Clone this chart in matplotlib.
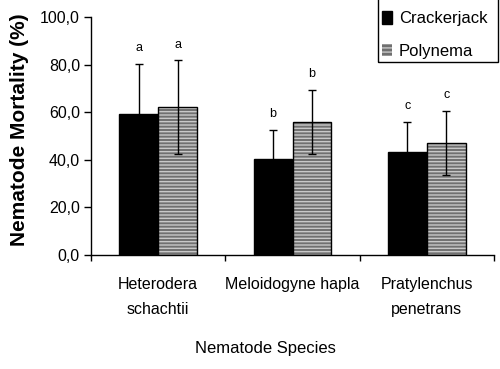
import numpy as np
import matplotlib
matplotlib.use("Agg")
import matplotlib.pyplot as plt
import matplotlib.patches as patches

plt.rcParams['font.family'] = ['Liberation Sans', 'DejaVu Sans']

# data
species = ["Heterodera\nschachtii", "Meloidogyne hapla", "Pratylenchus\npenetrans"]
crackerjack = [59.2, 40.4, 43.3]
crackerjack_err = [21.0, 12.1, 12.6]
polynema = [62.2, 55.9, 47.1]
polynema_err = [19.6, 13.4, 13.6]
crackerjack_letters = ["a", "b", "c"]
polynema_letters = ["a", "b", "c"]
yticks = [0, 20, 40, 60, 80, 100]

fig = plt.figure(figsize=(5.0, 3.69), dpi=100)
ax = fig.add_axes([0.182, 0.309, 0.806, 0.645])

x = np.arange(len(species))
w = 0.29

#Crackerjack bars, solid black
ax.bar(x - w/2, crackerjack, w, color='black', edgecolor='black', linewidth=1, zorder=2)

#Polynema bars: striped fill, then black outline
ax.bar(x + w/2, polynema, w, color='#707070', edgecolor='#c8c8c8', hatch='-----', linewidth=0, zorder=2)
ax.bar(x + w/2, polynema, w, fill=False, edgecolor='black', linewidth=1, zorder=3)

#Error bars
ax.errorbar(x - w/2, crackerjack, yerr=crackerjack_err, fmt='none', ecolor='black', elinewidth=1, capsize=3, capthick=1, zorder=4)
ax.errorbar(x + w/2, polynema, yerr=polynema_err, fmt='none', ecolor='black', elinewidth=1, capsize=3, capthick=1, zorder=4)

#Significance letters
for i in range(len(species)):
    ax.annotate(crackerjack_letters[i], (x[i] - w/2, crackerjack[i] + crackerjack_err[i]), xytext=(0, 7),
                textcoords='offset points', ha='center', va='bottom', fontsize=9)
    ax.annotate(polynema_letters[i], (x[i] + w/2, polynema[i] + polynema_err[i]), xytext=(0, 7),
                textcoords='offset points', ha='center', va='bottom', fontsize=9)

#Axes styling
ax.set_xlim(-0.5, len(species) - 0.5)
ax.set_ylim(0, 100)
ax.set_yticks(yticks)
ax.set_yticklabels([("%.1f" % v).replace('.', ',') for v in yticks], fontsize=11.5)
ax.set_xticks(x)
ax.set_xticklabels(species, fontsize=11.5, linespacing=1.85, va='top')
ax.tick_params(axis='x', which='major', length=0, pad=16)
ax.set_xticks(np.arange(-0.5, len(species), 1.0), minor=True)
ax.tick_params(axis='x', which='minor', length=4, direction='out', width=1)
ax.tick_params(axis='y', length=5, width=1, direction='out', pad=3)
for side in ['top', 'right']:
    ax.spines[side].set_visible(False)
for side in ['left', 'bottom']:
    ax.spines[side].set_linewidth(1)

ax.set_ylabel("Nematode Mortality (%)", fontsize=15, fontweight='bold')
ax.yaxis.set_label_coords(-0.155, 0.525)
fig.text(265/500, 1 - 348/369, "Nematode Species", ha='center', va='center', fontsize=12)

#Legend: entries without frame, box drawn separately so its top runs off the figure
handles = [patches.Patch(facecolor='black', edgecolor='black'),
           patches.Patch(facecolor='#707070', edgecolor='#c8c8c8', hatch='----', linewidth=0)]
leg = fig.legend(handles, ["Crackerjack", "Polynema"], loc='upper left', bbox_to_anchor=(382/500, 1 - 11/369),
                 fontsize=12, frameon=False, handlelength=0.6, handleheight=0.8, handletextpad=0.4,
                 labelspacing=1.05, borderpad=0, borderaxespad=0)
box = patches.Rectangle((378/500, 1 - 62/369), 120/500, 70/369, transform=fig.transFigure,
                        fill=False, edgecolor='black', linewidth=1)
fig.add_artist(box)

fig.savefig("out.png", dpi=100)
